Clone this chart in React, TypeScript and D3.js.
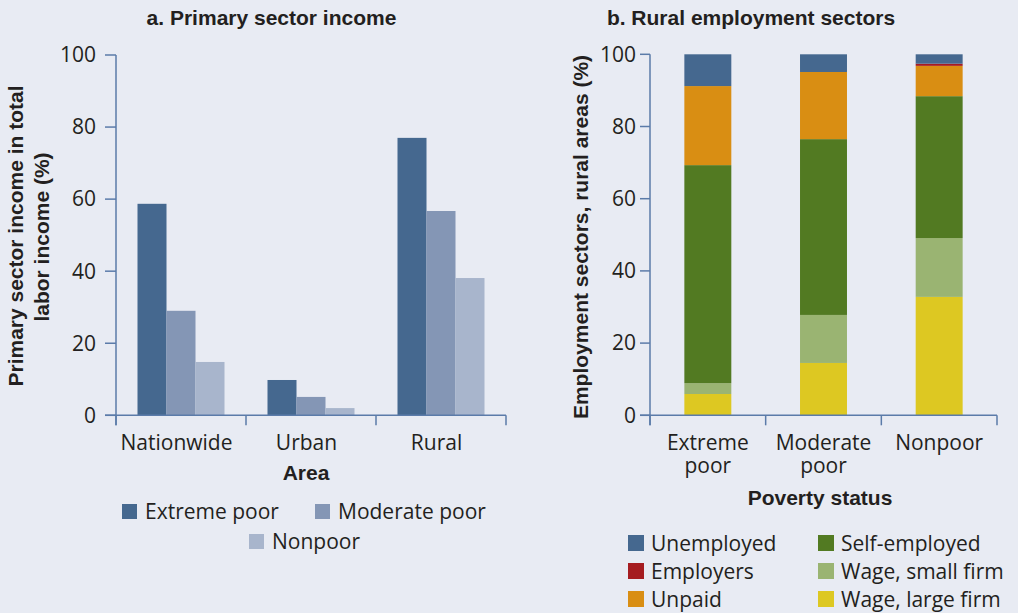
import React from "react";
import * as d3 from "d3";

const areas = ["Nationwide", "Urban", "Rural"];
const povertyGroups = ["Extreme poor", "Moderate poor", "Nonpoor"];
const extremePoorIncome = [58.7, 9.8, 77.0];
const moderatePoorIncome = [29.0, 5.1, 56.7];
const nonpoorIncome = [14.8, 2.0, 38.1];
const groupColors = ["#45688F", "#8496B5", "#A8B5CC"];

const statusLabels = [["Extreme", "poor"], ["Moderate", "poor"], ["Nonpoor"]];
const sectorKeys = ["Wage, large firm", "Wage, small firm", "Self-employed", "Unpaid", "Employers", "Unemployed"];
const wageLarge = [5.9, 14.5, 32.8];
const wageSmall = [3.0, 13.3, 16.3];
const selfEmployed = [60.4, 48.7, 39.3];
const unpaid = [21.9, 18.6, 8.4];
const employers = [0, 0, 0.6];
const unemployed = [8.8, 4.9, 2.6];
const sectorColors: Record<string, string> = {
  "Unemployed": "#45688F",
  "Employers": "#A51C20",
  "Unpaid": "#D98E13",
  "Self-employed": "#527A22",
  "Wage, small firm": "#9AB472",
  "Wage, large firm": "#DDC822",
};
const legendLeftCol = ["Unemployed", "Employers", "Unpaid"];
const legendRightCol = ["Self-employed", "Wage, small firm", "Wage, large firm"];
const yTicks = [0, 20, 40, 60, 80, 100];

const FONT = "'Open Sans', 'DejaVu Sans', sans-serif";
const BOLD = "'Liberation Sans', Arial, sans-serif";
const TEXT = "#231F20";
const AXIS = "#5B7BA9";
const BG = "#E8EBF3";
const FS = 21;
const BFS = 21;

export default function App() {
  // Left chart scales
  const yL = d3.scaleLinear().domain([0, 100]).range([415.3, 55]);
  const xL = d3.scaleBand<string>().domain(areas).range([116, 506]);
  const xL1 = d3.scaleBand<string>().domain(povertyGroups).range([21.5, 108.5]);
  const seriesL = [extremePoorIncome, moderatePoorIncome, nonpoorIncome];

  // Right chart scales
  const yR = d3.scaleLinear().domain([0, 100]).range([415.3, 54.3]);
  const xR = d3.scaleBand<string>().domain(povertyGroups).range([650, 997]);
  const xRbar = d3.scaleBand<string>().domain(povertyGroups).range([650, 997]).paddingInner(0.594).paddingOuter(0.297);

  const rows = povertyGroups.map((g, i) => ({
    group: g,
    "Wage, large firm": wageLarge[i],
    "Wage, small firm": wageSmall[i],
    "Self-employed": selfEmployed[i],
    "Unpaid": unpaid[i],
    "Employers": employers[i],
    "Unemployed": unemployed[i],
  }));
  const stacked = d3.stack<any>().keys(sectorKeys)(rows);

  const leftBoundaries = [...areas.map((a) => xL(a)!), xL.range()[1]];
  const rightBoundaries = [...povertyGroups.map((g) => xR(g)!), xR.range()[1]];

  return (
    <svg width={1018} height={613} style={{ position: "absolute", left: 0, top: 0, background: BG }} fontFamily={FONT}>
      <rect x={0} y={0} width={1018} height={613} fill={BG} />

      {/* Titles */}
      <text x={271.5} y={25} textAnchor="middle" fontFamily={BOLD} fontWeight="bold" fontSize={BFS} fill={TEXT}>a. Primary sector income</text>
      <text x={751} y={25} textAnchor="middle" fontFamily={BOLD} fontWeight="bold" fontSize={BFS} fill={TEXT}>b. Rural employment sectors</text>

      {/* Left chart */}
      <g>
        {seriesL.map((vals, si) =>
          areas.map((a, ai) => (
            <rect key={`${si}-${ai}`} x={xL(a)! + xL1(povertyGroups[si])!} y={yL(vals[ai])} width={xL1.bandwidth()} height={yL(0) - yL(vals[ai])} fill={groupColors[si]} />
          ))
        )}
        <line x1={116} x2={116} y1={yL(100)} y2={yL(0) + 10} stroke={AXIS} strokeWidth={1.5} />
        <line x1={105} x2={506} y1={yL(0)} y2={yL(0)} stroke={AXIS} strokeWidth={1.5} />
        {yTicks.map((t) => (
          <g key={t}>
            <line x1={105} x2={116} y1={yL(t)} y2={yL(t)} stroke={AXIS} strokeWidth={1.5} />
            <text x={96} y={yL(t)} dy="0.35em" textAnchor="end" fontSize={FS} fill={TEXT}>{t}</text>
          </g>
        ))}
        {leftBoundaries.map((b, i) => (
          <line key={i} x1={b} x2={b} y1={yL(0)} y2={yL(0) + 10} stroke={AXIS} strokeWidth={1.5} />
        ))}
        {areas.map((a) => (
          <text key={a} x={xL(a)! + xL.bandwidth() / 2 - 4.5} y={450} textAnchor="middle" fontSize={FS} fill={TEXT}>{a}</text>
        ))}
        <text x={306} y={480} textAnchor="middle" fontFamily={BOLD} fontWeight="bold" fontSize={BFS} fill={TEXT}>Area</text>
        <text transform="translate(23,236) rotate(-90)" textAnchor="middle" fontFamily={BOLD} fontWeight="bold" fontSize={BFS} fill={TEXT}>Primary sector income in total</text>
        <text transform="translate(48.5,237) rotate(-90)" textAnchor="middle" fontFamily={BOLD} fontWeight="bold" fontSize={BFS} fill={TEXT}>labor income (%)</text>

        {/* Left legend */}
        {[
          { g: 0, x: 122, y: 504 },
          { g: 1, x: 315, y: 504 },
          { g: 2, x: 249, y: 534 },
        ].map(({ g, x, y }) => (
          <g key={g}>
            <rect x={x} y={y} width={15} height={15} fill={groupColors[g]} />
            <text x={x + 23} y={y + 15} fontSize={FS} fill={TEXT}>{povertyGroups[g]}</text>
          </g>
        ))}
      </g>

      {/* Right chart */}
      <g>
        {stacked.map((layer) =>
          layer.map((d, i) => (
            <rect key={`${layer.key}-${i}`} x={xRbar(povertyGroups[i])!} y={yR(d[1])} width={xRbar.bandwidth()} height={Math.max(0, yR(d[0]) - yR(d[1]))} fill={sectorColors[layer.key]} />
          ))
        )}
        <line x1={650} x2={650} y1={yR(100)} y2={yR(0) + 10} stroke={AXIS} strokeWidth={1.5} />
        <line x1={640} x2={997} y1={yR(0)} y2={yR(0)} stroke={AXIS} strokeWidth={1.5} />
        {yTicks.map((t) => (
          <g key={t}>
            <line x1={640} x2={650} y1={yR(t)} y2={yR(t)} stroke={AXIS} strokeWidth={1.5} />
            <text x={636} y={yR(t)} dy="0.35em" textAnchor="end" fontSize={FS} fill={TEXT}>{t}</text>
          </g>
        ))}
        {rightBoundaries.map((b, i) => (
          <line key={i} x1={b} x2={b} y1={yR(0)} y2={yR(0) + 10} stroke={AXIS} strokeWidth={1.5} />
        ))}
        {povertyGroups.map((g, i) =>
          statusLabels[i].map((line, li) => (
            <text key={`${g}-${li}`} x={xR(g)! + xR.bandwidth() / 2} y={450 + li * 23} textAnchor="middle" fontSize={FS} fill={TEXT}>{line}</text>
          ))
        )}
        <text x={820} y={505} textAnchor="middle" fontFamily={BOLD} fontWeight="bold" fontSize={BFS} fill={TEXT}>Poverty status</text>
        <text transform="translate(588,237) rotate(-90)" textAnchor="middle" fontFamily={BOLD} fontWeight="bold" fontSize={BFS} fill={TEXT}>Employment sectors, rural areas (%)</text>

        {/* Right legend */}
        {[legendLeftCol, legendRightCol].map((col, ci) =>
          col.map((k, ri) => (
            <g key={k}>
              <rect x={ci === 0 ? 628 : 818} y={535 + ri * 28} width={16} height={16} fill={sectorColors[k]} />
              <text x={(ci === 0 ? 628 : 818) + 23} y={535 + ri * 28 + 16} fontSize={FS} fill={TEXT}>{k}</text>
            </g>
          ))
        )}
      </g>
    </svg>
  );
}
